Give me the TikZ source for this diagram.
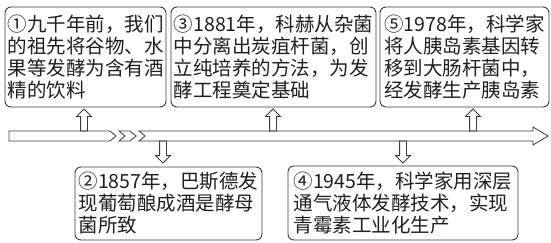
\documentclass[tikz,border=0pt]{standalone}
\usepackage{fontspec}
\newfontfamily\cjk{Noto Sans CJK SC}
\usetikzlibrary{shapes.arrows}
\definecolor{ink}{HTML}{3A3A3A}
\definecolor{type}{HTML}{1E1E1E}

\begin{document}
\begin{tikzpicture}[
  x=1pt, y=-1pt,
  event/.style={draw=ink, line width=0.9pt, rounded corners=6pt, align=left, text=type,
    inner sep=2pt, font=\cjk\fontsize{19.5}{22}\selectfont},
  pointer/.style={single arrow, draw=ink, line width=0.8pt, minimum height=22pt,
    minimum width=14pt, inner sep=3pt, outer sep=0pt, single arrow head extend=4pt,
    anchor=tail},
  band/.style={draw=ink, line width=0.8pt, fill=white}
]
  \useasboundingbox (0,0) rectangle (551,242);

  % events above the time line
  \node[event, minimum width=161pt, minimum height=100pt] (e1) at (85.5,57)
    {①九千年前，我们\\的祖先将谷物、水\\果等发酵为含有酒\\精的饮料};
  \node[event, minimum width=205pt, minimum height=100pt] (e3) at (273.5,57)
    {③1881年，科赫从杂菌\\中分离出炭疽杆菌，创\\立纯培养的方法，为发\\酵工程奠定基础};
  \node[event, minimum width=169pt, minimum height=100pt] (e5) at (464.5,57)
    {⑤1978年，科学家\\将人胰岛素基因转\\移到大肠杆菌中，\\经发酵生产胰岛素};

  % events below the time line
  \node[event, minimum width=187pt, minimum height=73pt] (e2) at (168.5,203.5)
    {②1857年，巴斯德发\\现葡萄酿成酒是酵母\\菌所致};
  \node[event, minimum width=230pt, minimum height=74pt] (e4) at (403,203)
    {④1945年，科学家用深层\\通气液体发酵技术，实现\\青霉素工业化生产};

  % time line
  \draw[band] (9,131) -- (110,131) -- (116,136) -- (110,141) -- (9,141) -- cycle;
  \draw[band] (119,131) -- (130,131) -- (136,136) -- (130,141) -- (119,141) -- (125,136) -- cycle;
  \draw[band] (139,131) -- (533,131) -- (533,127) -- (548,136) -- (533,145)
    -- (533,141) -- (139,141) -- (145,136) -- cycle;

  \node[pointer, rotate=90] (p1) at (84,131) {};
  \node[pointer, rotate=90] (p3) at (273,131) {};
  \node[pointer, rotate=90] (p5) at (473,131) {};
  \node[pointer, rotate=-90] (p2) at (163,141) {};
  \node[pointer, rotate=-90] (p4) at (403,141) {};
\end{tikzpicture}
\end{document}
